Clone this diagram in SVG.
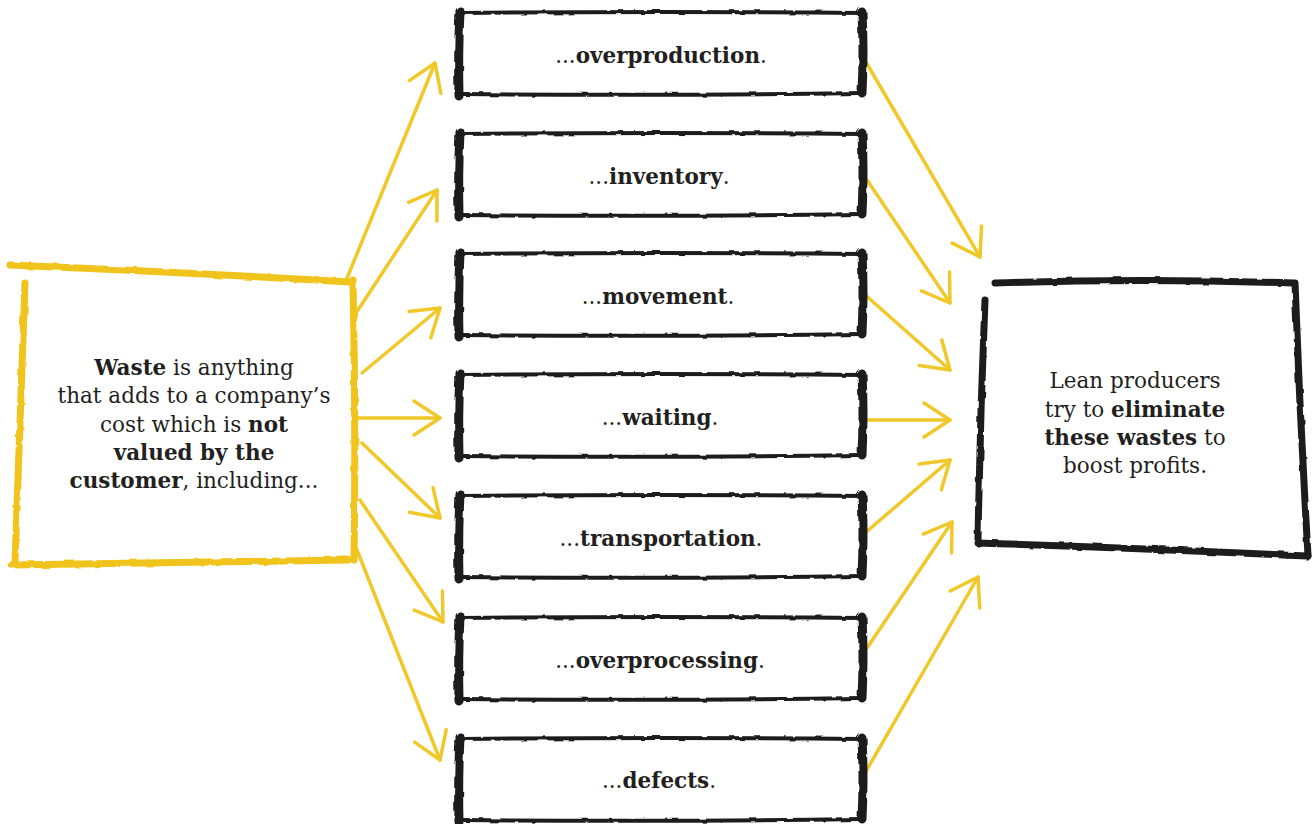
<svg xmlns="http://www.w3.org/2000/svg" xmlns:xlink="http://www.w3.org/1999/xlink" width="1315" height="824" viewBox="0 0 1315 824">
<style>
  .bg{fill:#ffffff}
  .ink{fill:none;stroke:#1e1c1d;stroke-linecap:round;stroke-linejoin:round}
  .side{stroke-width:9}
  .edge{stroke-width:4}
  .ybox{fill:none;stroke:#f0c41b;stroke-width:7;stroke-linecap:round;stroke-linejoin:round}
  .arrow{fill:none;stroke:#f0c829;stroke-width:3.5;stroke-linecap:round}
  .t{font-family:"DejaVu Serif","Liberation Serif",serif;font-size:21.5px;fill:#231f20;text-anchor:middle}
  .b{font-weight:bold}
</style>
<defs>
  <filter id="rough" x="-5%" y="-5%" width="110%" height="110%">
    <feTurbulence type="fractalNoise" baseFrequency="0.08" numOctaves="2" seed="3" result="n"/>
    <feDisplacementMap in="SourceGraphic" in2="n" scale="3"/>
  </filter>
  <marker id="head" markerUnits="userSpaceOnUse" markerWidth="40" markerHeight="40" refX="0" refY="0" orient="auto" overflow="visible">
    <path d="M-26,-17 L0,0 L-26,17" fill="none" stroke="#f0c829" stroke-width="3.5" stroke-linecap="round" stroke-linejoin="round"/>
  </marker>
  <g id="box">
    <path class="ink side" d="M460,-1 Q458,40 459,84"/>
    <path class="ink side" d="M862,0 Q864,40 862,81"/>
    <path class="ink edge" d="M462,1 Q660,-1 861,1"/>
    <path class="ink edge" d="M462,82 Q660,84 860,81"/>
  </g>
</defs>
<rect class="bg" x="0" y="0" width="1315" height="824"/>

<g id="connectors">
  <path class="arrow" marker-end="url(#head)" d="M345,283 L435,63"/>
  <path class="arrow" marker-end="url(#head)" d="M358,310 L437,190"/>
  <path class="arrow" marker-end="url(#head)" d="M362,373 L440,308"/>
  <path class="arrow" marker-end="url(#head)" d="M358,418 L440,418"/>
  <path class="arrow" marker-end="url(#head)" d="M362,443 L440,518"/>
  <path class="arrow" marker-end="url(#head)" d="M360,500 L443,622"/>
  <path class="arrow" marker-end="url(#head)" d="M357,550 L440,760"/>
  <path class="arrow" marker-end="url(#head)" d="M863,57 L980,257"/>
  <path class="arrow" marker-end="url(#head)" d="M867,180 L950,303"/>
  <path class="arrow" marker-end="url(#head)" d="M863,293 L950,370"/>
  <path class="arrow" marker-end="url(#head)" d="M865,420 L950,420"/>
  <path class="arrow" marker-end="url(#head)" d="M865,533 L950,460"/>
  <path class="arrow" marker-end="url(#head)" d="M867,648 L952,522"/>
  <path class="arrow" marker-end="url(#head)" d="M865,773 L978,577"/>
</g>

<g id="waste">
  <g filter="url(#rough)">
    <path class="ybox" d="M10,265 Q180,272 350,282"/>
    <path class="ybox" d="M353,280 Q356,420 354,560"/>
    <path class="ybox" d="M25,283 Q20,420 15,563"/>
    <path class="ybox" d="M12,565 Q180,562 348,560"/>
  </g>
  <text class="t" x="194" y="375"><tspan class="b">Waste</tspan> is anything</text>
  <text class="t" x="194" y="403">that adds to a company’s</text>
  <text class="t" x="194" y="432">cost which is <tspan class="b">not</tspan></text>
  <text class="t b" x="194" y="460">valued by the</text>
  <text class="t" x="194" y="488"><tspan class="b">customer</tspan>, including...</text>
</g>

<g id="overproduction">
  <use xlink:href="#box" href="#box" transform="translate(0,12)" filter="url(#rough)"/>
  <text class="t" x="661" y="63">...<tspan class="b">overproduction</tspan>.</text>
</g>
<g id="inventory">
  <use xlink:href="#box" href="#box" transform="translate(0,133)" filter="url(#rough)"/>
  <text class="t" x="659" y="184">...<tspan class="b">inventory</tspan>.</text>
</g>
<g id="movement">
  <use xlink:href="#box" href="#box" transform="translate(0,253)" filter="url(#rough)"/>
  <text class="t" x="658" y="304">...<tspan class="b">movement</tspan>.</text>
</g>
<g id="waiting">
  <use xlink:href="#box" href="#box" transform="translate(0,374)" filter="url(#rough)"/>
  <text class="t" x="660" y="425">...<tspan class="b">waiting</tspan>.</text>
</g>
<g id="transportation">
  <use xlink:href="#box" href="#box" transform="translate(0,495)" filter="url(#rough)"/>
  <text class="t" x="661" y="546">...<tspan class="b">transportation</tspan>.</text>
</g>
<g id="overprocessing">
  <use xlink:href="#box" href="#box" transform="translate(0,617)" filter="url(#rough)"/>
  <text class="t" x="660" y="668">...<tspan class="b">overprocessing</tspan>.</text>
</g>
<g id="defects">
  <use xlink:href="#box" href="#box" transform="translate(0,738)" filter="url(#rough)"/>
  <text class="t" x="659" y="788">...<tspan class="b">defects</tspan>.</text>
</g>

<g id="lean">
  <g filter="url(#rough)">
    <path class="ink" stroke-width="7" d="M995,283 Q1140,278 1293,283"/>
    <path class="ink" stroke-width="7" d="M1295,283 Q1300,420 1308,555"/>
    <path class="ink" stroke-width="7" d="M985,300 Q980,420 978,540"/>
    <path class="ink" stroke-width="7" d="M978,543 Q1140,548 1308,556"/>
  </g>
  <text class="t" x="1135" y="388">Lean producers</text>
  <text class="t" x="1135" y="417">try to <tspan class="b">eliminate</tspan></text>
  <text class="t" x="1135" y="445"><tspan class="b">these wastes</tspan> to</text>
  <text class="t" x="1135" y="473">boost profits.</text>
</g>
</svg>
